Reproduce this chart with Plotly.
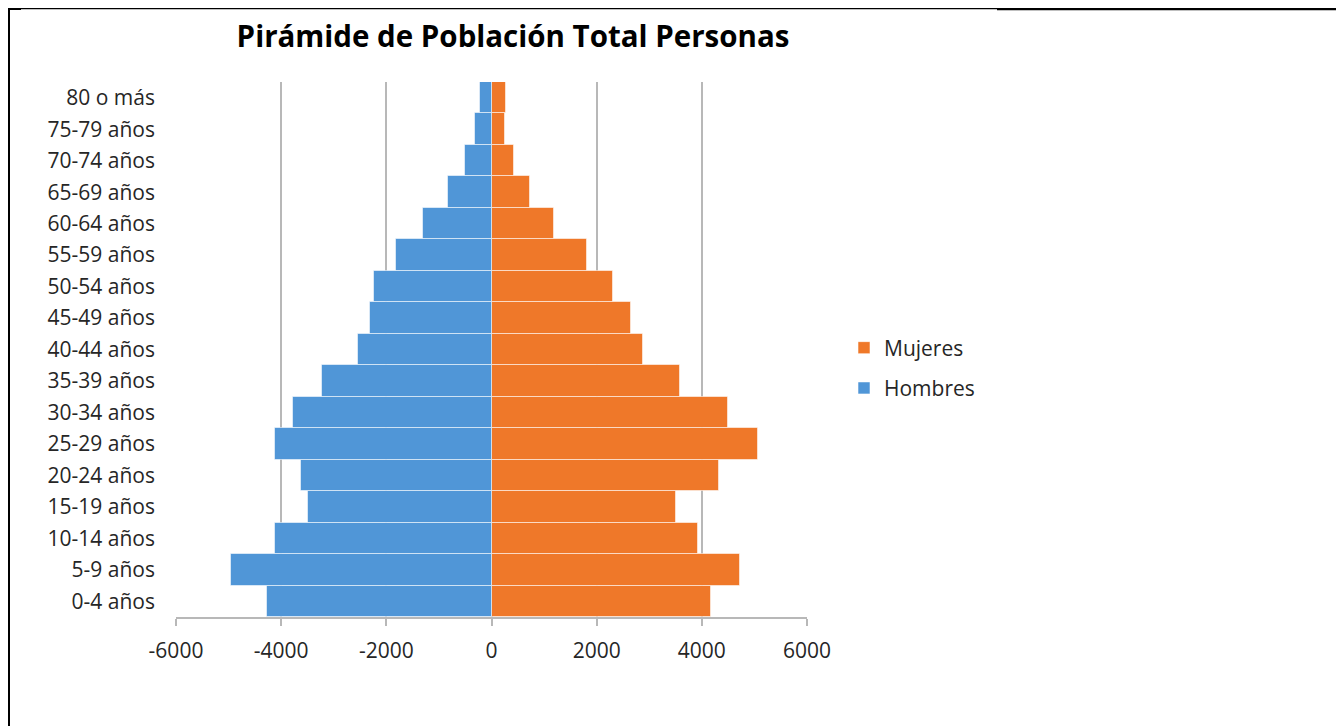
import plotly.graph_objects as go

categories = ["0-4 años", "5-9 años", "10-14 años", "15-19 años", "20-24 años",
              "25-29 años", "30-34 años", "35-39 años", "40-44 años", "45-49 años",
              "50-54 años", "55-59 años", "60-64 años", "65-69 años", "70-74 años",
              "75-79 años", "80 o más"]
hombres = [-4272, -4949, -4108, -3481, -3620, -4108, -3766, -3222, -2544, -2316,
           -2234, -1810, -1306, -823, -513, -310, -228]
mujeres = [4183, 4721, 3929, 3504, 4322, 5063, 4500, 3593, 2884, 2656,
           2313, 1812, 1185, 729, 424, 253, 280]
x_ticks = [-6000, -4000, -2000, 0, 2000, 4000, 6000]
x_ticklabels = ["-6000", "-4000", "-2000", "0", "2000", "4000", "6000"]

# the page body adds an 8px offset, so work in page pixels minus OFF
OFF = 8
W, H = 1344 - OFF, 726 - OFF
L, R, T, B = 176 - OFF, 807 - OFF, 82 - OFF, 617 - OFF

def px_x(p):
    return (p - OFF - L) / (R - L)

def px_y(p):
    return (B - (p - OFF)) / (B - T)

FONT = "Open Sans"
TXT = "#262626"

fig = go.Figure()
fig.add_trace(go.Bar(
    y=categories, x=mujeres, orientation="h", name="Mujeres",
    marker=dict(color="#ef7829", line=dict(color="rgba(255,255,255,0.55)", width=1)),
    legendgroup="m",
))
fig.add_trace(go.Bar(
    y=categories, x=hombres, orientation="h", name="Hombres",
    marker=dict(color="#5096d7", line=dict(color="rgba(255,255,255,0.55)", width=1)),
    legendgroup="h",
))

frame = dict(type="line", xref="paper", yref="paper")
shapes = [
    dict(frame, x0=px_x(9), x1=px_x(9), y0=px_y(8), y1=px_y(740), line=dict(color="black", width=2)),
    dict(frame, x0=px_x(8), x1=px_x(997), y0=px_y(8.6), y1=px_y(8.6), line=dict(color="black", width=1.2)),
    dict(frame, x0=px_x(8), x1=px_x(21), y0=px_y(9), y1=px_y(9), line=dict(color="black", width=2)),
    dict(frame, x0=px_x(997), x1=px_x(1350), y0=px_y(9), y1=px_y(9), line=dict(color="black", width=2.5)),
]

fig.update_layout(
    width=W, height=H,
    margin=dict(l=L, r=W - R, t=T, b=H - B, autoexpand=False),
    paper_bgcolor="white", plot_bgcolor="white",
    barmode="relative", bargap=0,
    font=dict(family=FONT, size=21, color=TXT),
    title=dict(text="<b>Pirámide de Población Total Personas</b>",
               x=(513 - OFF) / W, xref="container", xanchor="center",
               y=1 - (37 - OFF) / H, yref="container", yanchor="middle",
               font=dict(family=FONT, size=29.5, color="black")),
    xaxis=dict(range=[-6000, 6000], tickvals=x_ticks, ticktext=x_ticklabels,
               showgrid=True, gridcolor="#b8b8b8", gridwidth=2,
               zeroline=False, showline=True, linecolor="#b8b8b8", linewidth=2,
               ticks="outside", ticklen=7, tickcolor="#b8b8b8", tickwidth=2,
               ticklabelstandoff=7, fixedrange=True),
    yaxis=dict(categoryorder="array", categoryarray=categories,
               showgrid=False, zeroline=False, showline=False,
               ticks="", ticklabelstandoff=20, fixedrange=True),
    legend=dict(x=px_x(844), y=px_y(368), xanchor="left", yanchor="middle",
                traceorder="grouped", tracegroupgap=10,
                font=dict(family=FONT, size=21, color=TXT),
                bgcolor="rgba(0,0,0,0)"),
    shapes=shapes,
    showlegend=True,
)

fig.write_html("out.html")
